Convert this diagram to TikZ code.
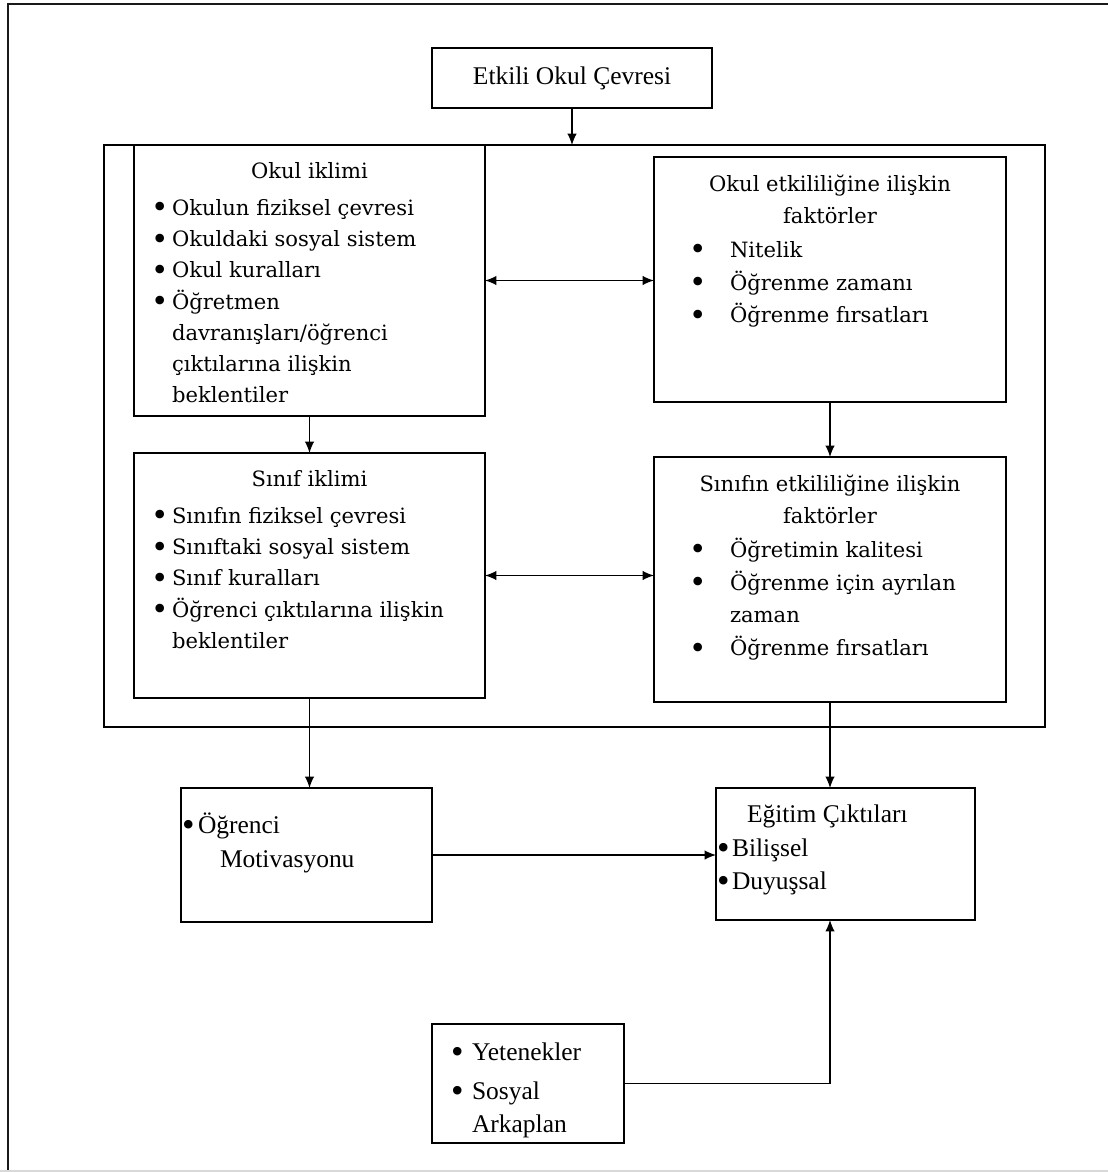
\documentclass[tikz,border=0pt]{standalone}
\usepackage{fontspec}
\setmainfont{Liberation Serif}
\newfontfamily\kutuyazi{DejaVu Serif}
\usepackage{graphicx}
\usepackage{tikz}
\usetikzlibrary{arrows.meta}

% box contents: top space, width, height, text
\newcommand{\kutu}[4]{\parbox[c][#3][t]{#2}{\vspace*{#1}#4}}
\newcommand{\baslik}[1]{{\centering\strut#1\par}}
\newcommand{\nokta}{\raisebox{-0.12em}{\scalebox{1.4}{\textbullet}}}
\newcommand{\madde}[2][0.34cm]{\par\noindent\hangindent=#1\hangafter=1\makebox[#1][l]{\hspace*{-0.08cm}\nokta}\strut#2}

\begin{document}
\begin{tikzpicture}[x=0.02cm,y=-0.02cm,>={Latex[length=2.3mm,width=1.9mm]},
                    line width=1pt,
                    box/.style={draw,rectangle,inner sep=0pt,outer sep=0pt},
                    ok/.style={line width=0.7pt},
                    ust/.style={font=\kutuyazi\fontsize{12}{17.8}\selectfont},
                    alt/.style={font=\fontsize{14.5}{19}\selectfont}]

\useasboundingbox (0,0) rectangle (1108,1173);

%DRAWING page frame

 \draw[line width=1.6pt,black!90] (8,1171)--(8,4)--(1108,4);
 \draw[gray!30,line width=1pt] (0,1171)--(1108,1171);

%Top box and the school frame

  \node[box,alt,minimum width=5.6cm,minimum height=1.2cm] (OkulCevresi) at (572,78) {Etkili Okul Çevresi};

  \node[box,minimum width=18.82cm,minimum height=11.64cm] (Cerceve) at (574.5,436) {};

%School level

  \node[box,ust] (OkulIklimi) at (309.5,280.5) {\kutu{6.7pt}{7.02cm}{5.42cm}{%
    \baslik{Okul iklimi}\vspace{3pt}\raggedright\leftskip=0.42cm\relax
    \madde{Okulun fiziksel çevresi}
    \madde{Okuldaki sosyal sistem}
    \madde{Okul kuralları}
    \madde{Öğretmen\newline davranışları/öğrenci\newline çıktılarına ilişkin\newline beklentiler}}};

  \node[box,ust] (OkulFaktor) at (830,279.5) {\kutu{7.3pt}{7.04cm}{4.9cm}{%
    \baslik{Okul etkililiğine ilişkin\\faktörler}\vspace{1pt}\raggedright\leftskip=0.78cm\relax
    \baselineskip=18.6pt
    \madde[0.74cm]{Nitelik}
    \madde[0.74cm]{Öğrenme zamanı}
    \madde[0.74cm]{Öğrenme fırsatları}}};

%Class level

  \node[box,ust] (SinifIklimi) at (309.5,575.5) {\kutu{6.7pt}{7.02cm}{4.9cm}{%
    \baslik{Sınıf iklimi}\vspace{3pt}\raggedright\leftskip=0.42cm\relax
    \madde{Sınıfın fiziksel çevresi}
    \madde{Sınıftaki sosyal sistem}
    \madde{Sınıf kuralları}
    \madde{Öğrenci çıktılarına ilişkin\newline beklentiler}}};

  \node[box,ust] (SinifFaktor) at (830,579.5) {\kutu{7.3pt}{7.04cm}{4.9cm}{%
    \baslik{Sınıfın etkililiğine ilişkin\\faktörler}\vspace{1pt}\raggedright\leftskip=0.78cm\relax
    \baselineskip=18.6pt
    \madde[0.74cm]{Öğretimin kalitesi}
    \madde[0.74cm]{Öğrenme için ayrılan\newline zaman}
    \madde[0.74cm]{Öğrenme fırsatları}}};

%Student and outcomes

  \node[box,alt] (Motivasyon) at (306.5,855) {\kutu{12.7pt}{5.02cm}{2.68cm}{%
    \raggedright\leftskip=0.1cm\relax
    \madde[0.24cm]{Öğrenci\newline\hspace*{0.44cm}Motivasyonu}}};

  \node[box,alt] (Ciktilar) at (845.5,854) {\kutu{6.5pt}{5.18cm}{2.64cm}{%
    \raggedright\leftskip=0.1cm\relax
    \noindent\hspace*{0.52cm}\strut Eğitim Çıktıları\par
    \madde[0.22cm]{Bilişsel}
    \madde[0.22cm]{Duyuşsal}}};

  \node[box,alt] (Yetenek) at (528,1083.5) {\kutu{7.6pt}{3.84cm}{2.38cm}{%
    \raggedright\leftskip=0.46cm\relax
    \madde{Yetenekler}\par\vspace{3pt}
    \madde{Sosyal\newline Arkaplan}}};

%Connectors

  \draw[->,ok] (OkulCevresi.south)--(OkulCevresi.south |- Cerceve.north);
  \draw[<->,ok] (OkulIklimi.east)--(OkulIklimi.east -| OkulFaktor.west);
  \draw[<->,ok] (SinifIklimi.east)--(SinifIklimi.east -| SinifFaktor.west);
  \draw[->,ok] (OkulIklimi.south)--(SinifIklimi.north);
  \draw[->,ok] (OkulFaktor.south)--(SinifFaktor.north);
  \draw[->,ok] (SinifIklimi.south)--(SinifIklimi.south |- Motivasyon.north);
  \draw[->,ok] (SinifFaktor.south)--(SinifFaktor.south |- Ciktilar.north);
  \draw[->,ok] (Motivasyon.east)--(Motivasyon.east -| Ciktilar.west);
  \draw[->,ok] (Yetenek.east) -| (SinifFaktor.south |- Ciktilar.south);

\end{tikzpicture}
\end{document}
